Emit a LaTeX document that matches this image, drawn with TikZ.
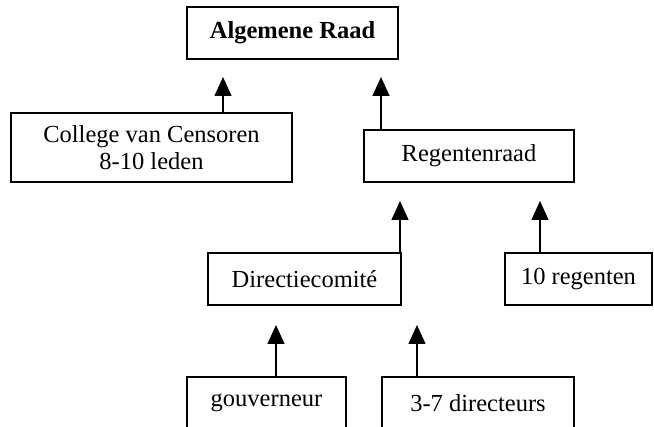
\documentclass[tikz,border=0pt]{standalone}
\usepackage{fontspec}
\setmainfont{Liberation Serif}
\usetikzlibrary{arrows.meta}
\begin{document}
\begin{tikzpicture}[x=1pt,y=-1pt,
  box/.style={draw=black,line width=1.3pt,inner sep=0pt,align=center,
    font=\fontsize{24.5}{27.5}\selectfont},
  arr/.style={line width=1.3pt,-{Triangle[length=19pt,width=17pt]}}]
\useasboundingbox (0,0) rectangle (654,427);
\clip (0,0) rectangle (654,427);
\fill[white] (0,0) rectangle (654,427);
\node[box,minimum width=211pt,minimum height=52pt,font=\fontsize{24.5}{27.5}\selectfont\bfseries] (alg) at (292.5,33) {Algemene Raad};
\node[box,minimum width=281pt,minimum height=69pt] (col) at (151.5,147.5) {College van Censoren\\8-10 leden};
\node[box,minimum width=210pt,minimum height=52pt] (reg) at (469,156) {Regentenraad};
\node[box,minimum width=193pt,minimum height=52pt] (dir) at (304.5,279) {Directiecomité};
\node[box,minimum width=147pt,minimum height=52pt] (ten) at (578.5,279) {10 regenten};
\node[box,minimum width=159pt,minimum height=52pt] (gov) at (266.5,403) {gouverneur};
\node[box,minimum width=192pt,minimum height=52pt] (drc) at (478,403) {3-7 directeurs};
\coordinate (t1) at (223,77);
\coordinate (t2) at (381,77);
\coordinate (t3) at (400,201);
\coordinate (t4) at (540,201);
\coordinate (t5) at (276,325);
\coordinate (t6) at (417,325);
\draw[arr] (col.north -| t1) -- (t1);
\draw[arr] (reg.north -| t2) -- (t2);
\draw[arr] (dir.north -| t3) -- (t3);
\draw[arr] (ten.north -| t4) -- (t4);
\draw[arr] (gov.north -| t5) -- (t5);
\draw[arr] (drc.north -| t6) -- (t6);
\end{tikzpicture}
\end{document}
